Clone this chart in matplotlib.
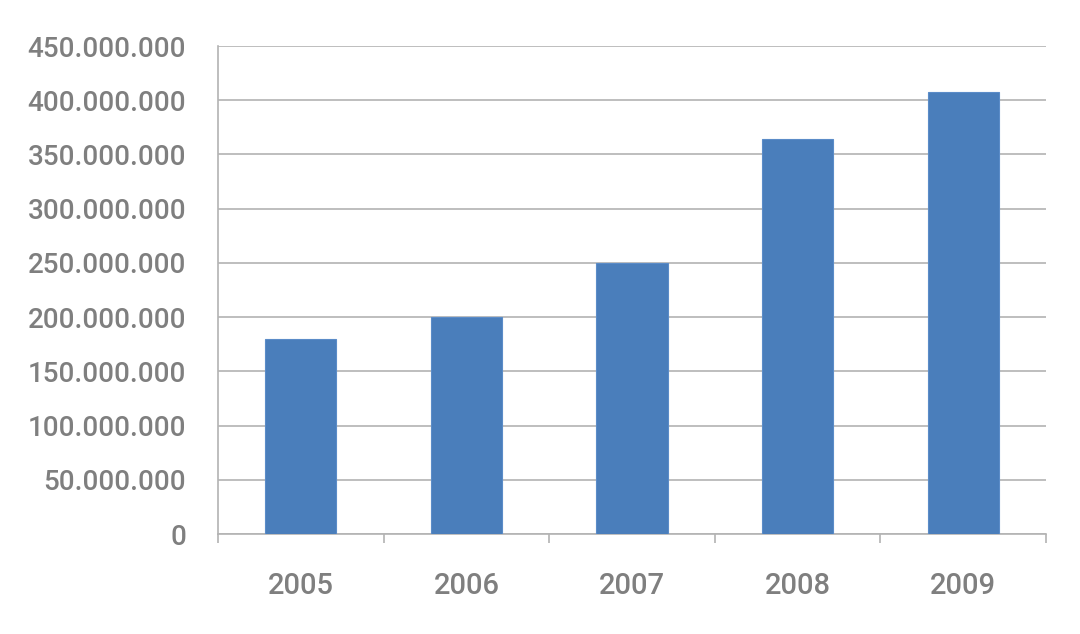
import matplotlib.pyplot as plt
from matplotlib.ticker import FuncFormatter, FixedLocator

anos = ["2005", "2006", "2007", "2008", "2009"]
valores = [180000000, 200000000, 250000000, 364000000, 408000000]

cor_barra = "#4a7ebb"
cor_texto = "#7f7f7f"
cor_grade = "#b3b3b3"

plt.rcParams['font.family'] = ['Roboto', 'DejaVu Sans']

fig = plt.figure(figsize=(10.8, 6.34), dpi=100)
ax = fig.add_axes([0.2019, 0.1577, 0.7666, 0.7697])

x = list(range(len(anos)))
ax.bar(x, valores, width=0.43, color=cor_barra, edgecolor="#5b8cc8", linewidth=0.8, zorder=3)

ax.set_xlim(-0.5, len(anos) - 0.5)
ax.set_ylim(0, 450000000)
ax.set_yticks(range(0, 450000001, 50000000))
ax.yaxis.set_major_formatter(FuncFormatter(lambda v, p: f"{int(v):,}".replace(",", ".")))
ax.grid(axis="y", color=cor_grade, linewidth=1.2, zorder=0)

# rotulos no centro, marcas nas divisas das categorias
ax.set_xticks(x)
ax.set_xticklabels(anos)
ax.xaxis.set_minor_locator(FixedLocator([i - 0.5 for i in range(len(anos) + 1)]))
ax.tick_params(axis="x", which="major", length=0, pad=27, labelsize=21, labelcolor=cor_texto)
ax.tick_params(axis="x", which="minor", length=6.5, width=1.2, color=cor_grade)
ax.tick_params(axis="y", length=0, pad=23, labelsize=20, labelcolor=cor_texto)
for t in ax.get_xticklabels() + ax.get_yticklabels():
    t.set_fontweight("medium")

for lado in ["top", "right"]:
    ax.spines[lado].set_visible(False)
ax.spines["left"].set_color(cor_grade)
ax.spines["left"].set_linewidth(1.2)
ax.spines["bottom"].set_color(cor_grade)
ax.spines["bottom"].set_linewidth(1.2)

fig.savefig("out.png", dpi=100)
